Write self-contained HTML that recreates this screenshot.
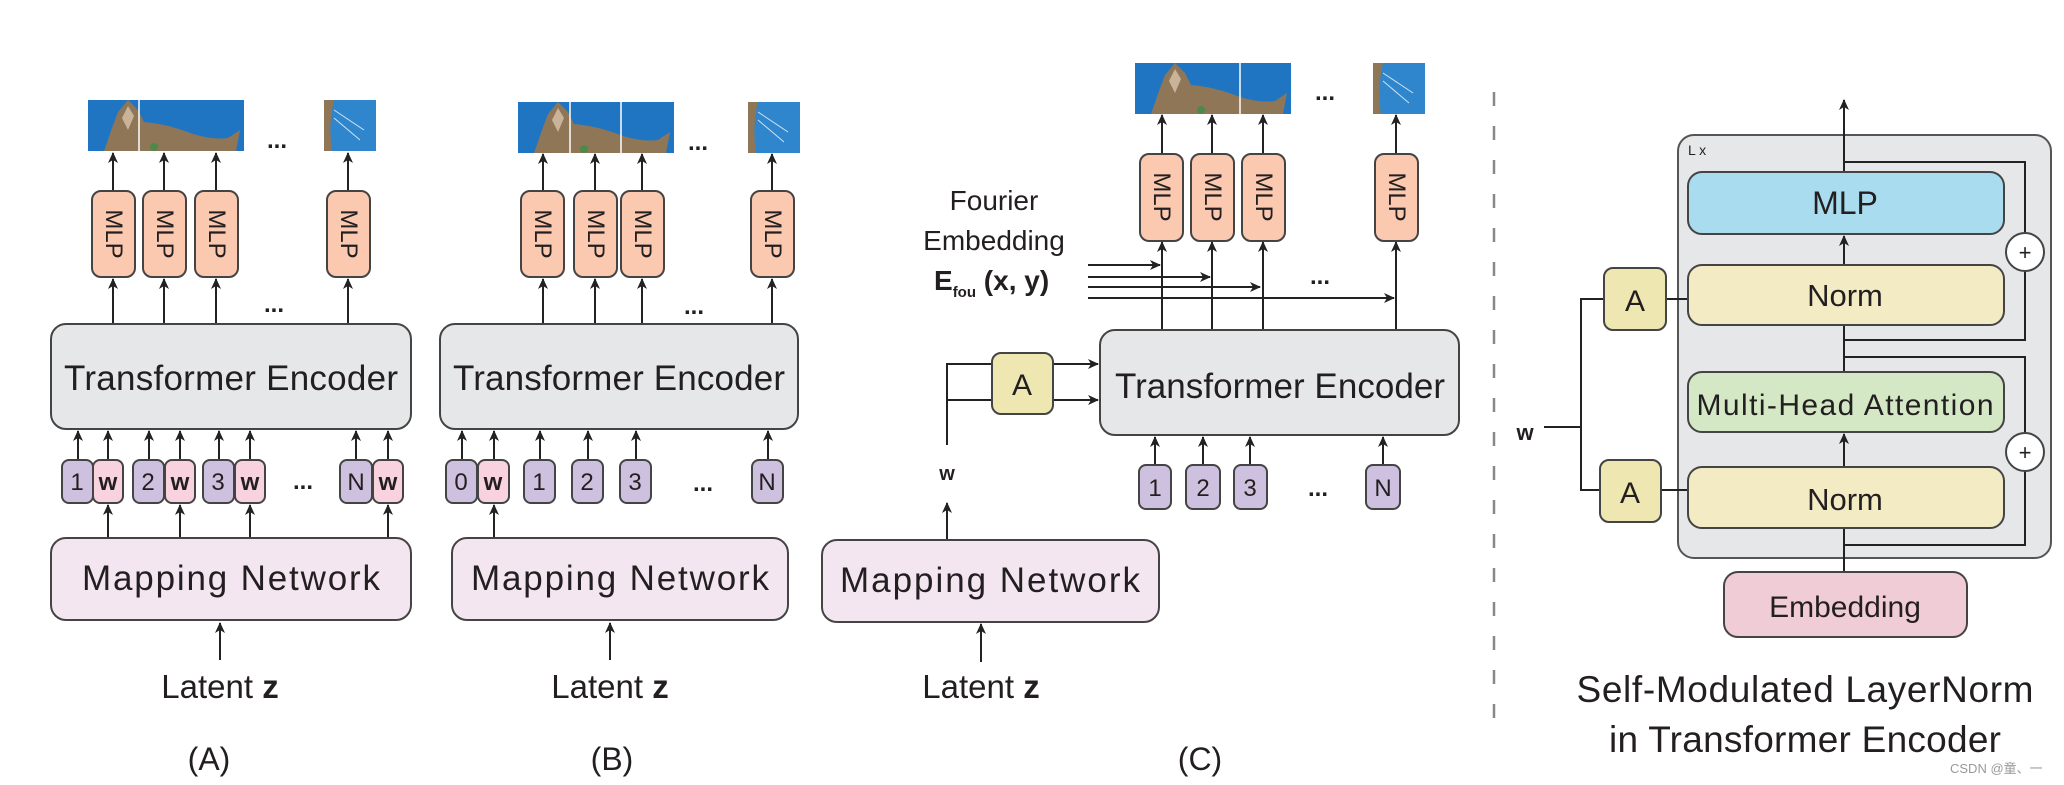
<!DOCTYPE html>
<html><head><meta charset="utf-8"><style>
html,body{margin:0;padding:0;background:#fff}
svg{display:block}
text{font-family:"Liberation Sans","Noto Sans CJK SC",sans-serif;fill:#231f20}
</style></head><body>
<svg width="2064" height="785" viewBox="0 0 2064 785" xmlns="http://www.w3.org/2000/svg">
<defs>
<marker id="ah" markerWidth="12" markerHeight="12" refX="10" refY="5" orient="auto" markerUnits="userSpaceOnUse"><path d="M0,0 L11,5 L0,10 L3,5 Z" fill="#222"/></marker>
<g id="cat3">
<rect x="0" y="0" width="156" height="51" fill="#1f75c2"/>
<path d="M16,51 L24,28 L30,12 L40,0 L50,10 L56,22 Q80,24 105,34 Q125,40 140,38 L152,30 L148,51 Z" fill="#8f7656"/>
<path d="M34,18 L40,6 L46,16 L40,30 Z" fill="#c9b49a"/>
<circle cx="66" cy="47" r="4" fill="#4b8a4a"/>
</g>
<g id="cat1">
<rect x="0" y="0" width="52" height="51" fill="#2f86cc"/>
<path d="M0,0 L10,0 Q4,25 8,51 L0,51 Z" fill="#8f7656"/>
<path d="M10,10 L40,30 M10,18 L36,40" stroke="#cfe3f2" stroke-width="1"/>
</g>
</defs>

<g stroke="#222" stroke-width="2" fill="none">
<!-- Panel A arrows -->
<line x1="113" y1="191" x2="113" y2="153" marker-end="url(#ah)"/>
<line x1="164" y1="191" x2="164" y2="153" marker-end="url(#ah)"/>
<line x1="216" y1="191" x2="216" y2="153" marker-end="url(#ah)"/>
<line x1="348" y1="191" x2="348" y2="153" marker-end="url(#ah)"/>
<line x1="113" y1="324" x2="113" y2="279" marker-end="url(#ah)"/>
<line x1="164" y1="324" x2="164" y2="279" marker-end="url(#ah)"/>
<line x1="216" y1="324" x2="216" y2="279" marker-end="url(#ah)"/>
<line x1="348" y1="324" x2="348" y2="279" marker-end="url(#ah)"/>
<line x1="78" y1="460" x2="78" y2="431" marker-end="url(#ah)"/>
<line x1="108" y1="460" x2="108" y2="431" marker-end="url(#ah)"/>
<line x1="149" y1="460" x2="149" y2="431" marker-end="url(#ah)"/>
<line x1="180" y1="460" x2="180" y2="431" marker-end="url(#ah)"/>
<line x1="219" y1="460" x2="219" y2="431" marker-end="url(#ah)"/>
<line x1="250" y1="460" x2="250" y2="431" marker-end="url(#ah)"/>
<line x1="356" y1="460" x2="356" y2="431" marker-end="url(#ah)"/>
<line x1="388" y1="460" x2="388" y2="431" marker-end="url(#ah)"/>
<line x1="108" y1="538" x2="108" y2="505" marker-end="url(#ah)"/>
<line x1="180" y1="538" x2="180" y2="505" marker-end="url(#ah)"/>
<line x1="250" y1="538" x2="250" y2="505" marker-end="url(#ah)"/>
<line x1="388" y1="538" x2="388" y2="505" marker-end="url(#ah)"/>
<line x1="220" y1="660" x2="220" y2="623" marker-end="url(#ah)"/>
<!-- Panel B arrows -->
<line x1="543" y1="191" x2="543" y2="154" marker-end="url(#ah)"/>
<line x1="595" y1="191" x2="595" y2="154" marker-end="url(#ah)"/>
<line x1="642" y1="191" x2="642" y2="154" marker-end="url(#ah)"/>
<line x1="772" y1="191" x2="772" y2="154" marker-end="url(#ah)"/>
<line x1="543" y1="324" x2="543" y2="279" marker-end="url(#ah)"/>
<line x1="595" y1="324" x2="595" y2="279" marker-end="url(#ah)"/>
<line x1="642" y1="324" x2="642" y2="279" marker-end="url(#ah)"/>
<line x1="772" y1="324" x2="772" y2="279" marker-end="url(#ah)"/>
<line x1="462" y1="460" x2="462" y2="431" marker-end="url(#ah)"/>
<line x1="494" y1="460" x2="494" y2="431" marker-end="url(#ah)"/>
<line x1="540" y1="460" x2="540" y2="431" marker-end="url(#ah)"/>
<line x1="588" y1="460" x2="588" y2="431" marker-end="url(#ah)"/>
<line x1="636" y1="460" x2="636" y2="431" marker-end="url(#ah)"/>
<line x1="768" y1="460" x2="768" y2="431" marker-end="url(#ah)"/>
<line x1="494" y1="538" x2="494" y2="505" marker-end="url(#ah)"/>
<line x1="610" y1="660" x2="610" y2="623" marker-end="url(#ah)"/>
<!-- Panel C arrows -->
<line x1="1162" y1="154" x2="1162" y2="115" marker-end="url(#ah)"/>
<line x1="1212" y1="154" x2="1212" y2="115" marker-end="url(#ah)"/>
<line x1="1263" y1="154" x2="1263" y2="115" marker-end="url(#ah)"/>
<line x1="1396" y1="154" x2="1396" y2="115" marker-end="url(#ah)"/>
<line x1="1162" y1="330" x2="1162" y2="242" marker-end="url(#ah)"/>
<line x1="1212" y1="330" x2="1212" y2="242" marker-end="url(#ah)"/>
<line x1="1263" y1="330" x2="1263" y2="242" marker-end="url(#ah)"/>
<line x1="1396" y1="330" x2="1396" y2="242" marker-end="url(#ah)"/>
<line x1="1088" y1="265" x2="1160" y2="265" marker-end="url(#ah)"/>
<line x1="1088" y1="277" x2="1210" y2="277" marker-end="url(#ah)"/>
<line x1="1088" y1="287" x2="1260" y2="287" marker-end="url(#ah)"/>
<line x1="1088" y1="298" x2="1394" y2="298" marker-end="url(#ah)"/>
<line x1="1155" y1="465" x2="1155" y2="437" marker-end="url(#ah)"/>
<line x1="1203" y1="465" x2="1203" y2="437" marker-end="url(#ah)"/>
<line x1="1250" y1="465" x2="1250" y2="437" marker-end="url(#ah)"/>
<line x1="1383" y1="465" x2="1383" y2="437" marker-end="url(#ah)"/>
<polyline points="947,445 947,364 992,364"/>
<line x1="947" y1="400" x2="992" y2="400"/>
<line x1="1053" y1="364" x2="1098" y2="364" marker-end="url(#ah)"/>
<line x1="1053" y1="400" x2="1098" y2="400" marker-end="url(#ah)"/>
<line x1="947" y1="540" x2="947" y2="503" marker-end="url(#ah)"/>
<line x1="981" y1="662" x2="981" y2="624" marker-end="url(#ah)"/>
</g>

<!-- Panel A shapes -->
<use href="#cat3" x="88" y="100"/>
<line x1="139" y1="100" x2="139" y2="151" stroke="#fff" stroke-width="1.5"/>
<use href="#cat1" x="324" y="100"/>
<g stroke="#444" stroke-width="2">
<rect x="92" y="191" width="43" height="86" rx="9" fill="#fbc8b0"/>
<rect x="143" y="191" width="43" height="86" rx="9" fill="#fbc8b0"/>
<rect x="195" y="191" width="43" height="86" rx="9" fill="#fbc8b0"/>
<rect x="327" y="191" width="43" height="86" rx="9" fill="#fbc8b0"/>
<rect x="51" y="324" width="360" height="105" rx="15" fill="#e6e7e8"/>
<rect x="62" y="460" width="31" height="43" rx="7" fill="#cdc1df"/>
<rect x="93" y="460" width="30" height="43" rx="7" fill="#f8d2de"/>
<rect x="133" y="460" width="31" height="43" rx="7" fill="#cdc1df"/>
<rect x="165" y="460" width="30" height="43" rx="7" fill="#f8d2de"/>
<rect x="203" y="460" width="31" height="43" rx="7" fill="#cdc1df"/>
<rect x="235" y="460" width="30" height="43" rx="7" fill="#f8d2de"/>
<rect x="340" y="460" width="32" height="43" rx="7" fill="#cdc1df"/>
<rect x="373" y="460" width="30" height="43" rx="7" fill="#f8d2de"/>
<rect x="51" y="538" width="360" height="82" rx="15" fill="#f3e6f0"/>
</g>
<g font-size="24" text-anchor="middle">
<text transform="translate(113.5,234) rotate(90)" dominant-baseline="central">MLP</text>
<text transform="translate(164.5,234) rotate(90)" dominant-baseline="central">MLP</text>
<text transform="translate(216.5,234) rotate(90)" dominant-baseline="central">MLP</text>
<text transform="translate(348.5,234) rotate(90)" dominant-baseline="central">MLP</text>
</g>
<text x="231" y="390" font-size="35" text-anchor="middle" textLength="334">Transformer Encoder</text>
<g font-size="24" text-anchor="middle">
<text x="77" y="490" fill="#444">1</text><text x="108" y="490" font-weight="bold">w</text>
<text x="148" y="490" fill="#444">2</text><text x="180" y="490" font-weight="bold">w</text>
<text x="218" y="490" fill="#444">3</text><text x="250" y="490" font-weight="bold">w</text>
<text x="356" y="490" fill="#444">N</text><text x="388" y="490" font-weight="bold">w</text>
</g>
<g font-size="24" font-weight="bold" text-anchor="middle" fill="#222">
<text x="277" y="148">...</text><text x="274" y="312">...</text><text x="303" y="489">...</text>
<text x="698" y="150">...</text><text x="694" y="314">...</text><text x="703" y="491">...</text>
<text x="1325" y="100">...</text><text x="1320" y="284">...</text><text x="1318" y="496">...</text>
</g>
<text x="231" y="590" font-size="35" text-anchor="middle" textLength="298">Mapping  Network</text>
<text x="220" y="698" font-size="33" text-anchor="middle">Latent <tspan font-weight="bold">z</tspan></text>
<text x="209" y="770" font-size="32" text-anchor="middle">(A)</text>

<!-- Panel B shapes -->
<use href="#cat3" x="518" y="102"/>
<line x1="570" y1="102" x2="570" y2="153" stroke="#fff" stroke-width="1.5"/>
<line x1="621" y1="102" x2="621" y2="153" stroke="#fff" stroke-width="1.5"/>
<use href="#cat1" x="748" y="102"/>
<g stroke="#444" stroke-width="2">
<rect x="521" y="191" width="43" height="86" rx="9" fill="#fbc8b0"/>
<rect x="574" y="191" width="43" height="86" rx="9" fill="#fbc8b0"/>
<rect x="621" y="191" width="43" height="86" rx="9" fill="#fbc8b0"/>
<rect x="751" y="191" width="43" height="86" rx="9" fill="#fbc8b0"/>
<rect x="440" y="324" width="358" height="105" rx="15" fill="#e6e7e8"/>
<rect x="446" y="460" width="31" height="43" rx="7" fill="#cdc1df"/>
<rect x="478" y="460" width="31" height="43" rx="7" fill="#f8d2de"/>
<rect x="524" y="460" width="31" height="43" rx="7" fill="#cdc1df"/>
<rect x="572" y="460" width="31" height="43" rx="7" fill="#cdc1df"/>
<rect x="620" y="460" width="31" height="43" rx="7" fill="#cdc1df"/>
<rect x="752" y="460" width="31" height="43" rx="7" fill="#cdc1df"/>
<rect x="452" y="538" width="336" height="82" rx="15" fill="#f3e6f0"/>
</g>
<g font-size="24" text-anchor="middle">
<text transform="translate(542.5,234) rotate(90)" dominant-baseline="central">MLP</text>
<text transform="translate(595.5,234) rotate(90)" dominant-baseline="central">MLP</text>
<text transform="translate(642.5,234) rotate(90)" dominant-baseline="central">MLP</text>
<text transform="translate(772.5,234) rotate(90)" dominant-baseline="central">MLP</text>
<text x="461" y="490" fill="#444">0</text><text x="493" y="490" font-weight="bold">w</text>
<text x="539" y="490" fill="#444">1</text><text x="587" y="490" fill="#444">2</text>
<text x="635" y="490" fill="#444">3</text><text x="767" y="490" fill="#444">N</text>
</g>
<text x="619" y="390" font-size="35" text-anchor="middle" textLength="332">Transformer Encoder</text>
<text x="620" y="590" font-size="35" text-anchor="middle" textLength="298">Mapping  Network</text>
<text x="610" y="698" font-size="33" text-anchor="middle">Latent <tspan font-weight="bold">z</tspan></text>
<text x="612" y="770" font-size="32" text-anchor="middle">(B)</text>

<!-- Panel C shapes -->
<use href="#cat3" x="1135" y="63"/>
<line x1="1240" y1="63" x2="1240" y2="114" stroke="#fff" stroke-width="1.5"/>
<use href="#cat1" x="1373" y="63"/>
<g stroke="#444" stroke-width="2">
<rect x="1140" y="154" width="43" height="87" rx="9" fill="#fbc8b0"/>
<rect x="1191" y="154" width="43" height="87" rx="9" fill="#fbc8b0"/>
<rect x="1242" y="154" width="43" height="87" rx="9" fill="#fbc8b0"/>
<rect x="1375" y="154" width="43" height="87" rx="9" fill="#fbc8b0"/>
<rect x="1100" y="330" width="359" height="105" rx="15" fill="#e6e7e8"/>
<rect x="992" y="353" width="61" height="61" rx="9" fill="#efe7b1"/>
<rect x="1139" y="465" width="32" height="44" rx="7" fill="#cdc1df"/>
<rect x="1186" y="465" width="34" height="44" rx="7" fill="#cdc1df"/>
<rect x="1234" y="465" width="33" height="44" rx="7" fill="#cdc1df"/>
<rect x="1366" y="465" width="34" height="44" rx="7" fill="#cdc1df"/>
<rect x="822" y="540" width="337" height="82" rx="15" fill="#f3e6f0"/>
</g>
<g font-size="24" text-anchor="middle">
<text transform="translate(1161.5,197) rotate(90)" dominant-baseline="central">MLP</text>
<text transform="translate(1212.5,197) rotate(90)" dominant-baseline="central">MLP</text>
<text transform="translate(1263.5,197) rotate(90)" dominant-baseline="central">MLP</text>
<text transform="translate(1396.5,197) rotate(90)" dominant-baseline="central">MLP</text>
<text x="1155" y="496" fill="#444">1</text><text x="1203" y="496" fill="#444">2</text>
<text x="1250" y="496" fill="#444">3</text><text x="1383" y="496" fill="#444">N</text>
</g>
<text x="994" y="210" font-size="28" text-anchor="middle">Fourier</text>
<text x="994" y="250" font-size="28" text-anchor="middle">Embedding</text>
<text x="934" y="290" font-size="28" font-weight="bold">E<tspan font-size="15" dy="7">fou</tspan><tspan dy="-7"> (x, y)</tspan></text>
<text x="1022" y="395" font-size="30" text-anchor="middle">A</text>
<text x="947" y="480" font-size="20" font-weight="bold" text-anchor="middle">w</text>
<text x="1280" y="398" font-size="35" text-anchor="middle" textLength="330">Transformer Encoder</text>
<text x="990" y="592" font-size="35" text-anchor="middle" textLength="300">Mapping  Network</text>
<text x="981" y="698" font-size="33" text-anchor="middle">Latent <tspan font-weight="bold">z</tspan></text>
<text x="1200" y="770" font-size="32" text-anchor="middle">(C)</text>

<!-- Divider -->
<line x1="1494" y1="92" x2="1494" y2="730" stroke="#888" stroke-width="2.5" stroke-dasharray="14 20"/>

<!-- Panel D -->
<rect x="1678" y="135" width="373" height="423" rx="16" fill="#e6e7e8" stroke="#555" stroke-width="2"/>
<text x="1688" y="155" font-size="14" fill="#666">L x</text>
<g stroke="#222" stroke-width="2" fill="none">
<line x1="1844" y1="165" x2="1844" y2="100" marker-end="url(#ah)"/>
<line x1="1844" y1="572" x2="1844" y2="528"/>
<line x1="1844" y1="467" x2="1844" y2="434" marker-end="url(#ah)"/>
<line x1="1844" y1="372" x2="1844" y2="325"/>
<line x1="1844" y1="265" x2="1844" y2="236" marker-end="url(#ah)"/>
<line x1="1844" y1="172" x2="1844" y2="160"/>
<polyline points="1844,545 2025,545 2025,357 1844,357"/>
<polyline points="1844,340 2025,340 2025,162 1844,162"/>
<line x1="1544" y1="427" x2="1581" y2="427"/>
<polyline points="1604,299 1581,299 1581,490 1600,490"/>
<line x1="1666" y1="299" x2="1688" y2="299"/>
<line x1="1661" y1="490" x2="1688" y2="490"/>
</g>
<g stroke="#444" stroke-width="2">
<rect x="1688" y="172" width="316" height="62" rx="14" fill="#a8dcee"/>
<rect x="1688" y="265" width="316" height="60" rx="14" fill="#f3ebc4"/>
<rect x="1688" y="372" width="316" height="60" rx="14" fill="#d4e8c6"/>
<rect x="1688" y="467" width="316" height="61" rx="14" fill="#f3ebc4"/>
<rect x="1724" y="572" width="243" height="65" rx="14" fill="#f0ccd6"/>
<rect x="1604" y="268" width="62" height="62" rx="9" fill="#efe7b1"/>
<rect x="1600" y="460" width="61" height="62" rx="9" fill="#efe7b1"/>
<circle cx="2025" cy="252" r="19" fill="#fff"/>
<circle cx="2025" cy="452" r="19" fill="#fff"/>
</g>
<g text-anchor="middle">
<text x="2025" y="260" font-size="22">+</text>
<text x="2025" y="460" font-size="22">+</text>
<text x="1845" y="214" font-size="32">MLP</text>
<text x="1845" y="306" font-size="31">Norm</text>
<text x="1845" y="415" font-size="30" textLength="297">Multi-Head Attention</text>
<text x="1845" y="510" font-size="31">Norm</text>
<text x="1845" y="617" font-size="30">Embedding</text>
<text x="1635" y="311" font-size="30">A</text>
<text x="1630" y="503" font-size="30">A</text>
<text x="1525" y="440" font-size="22" font-weight="bold">w</text>
<text x="1805" y="702" font-size="37" textLength="457">Self-Modulated LayerNorm</text>
<text x="1805" y="752" font-size="37" textLength="392">in Transformer Encoder</text>
</g>
<text x="1950" y="773" font-size="13" fill="#999" style="fill:#999">CSDN @童、一</text>
</svg>
</body></html>
